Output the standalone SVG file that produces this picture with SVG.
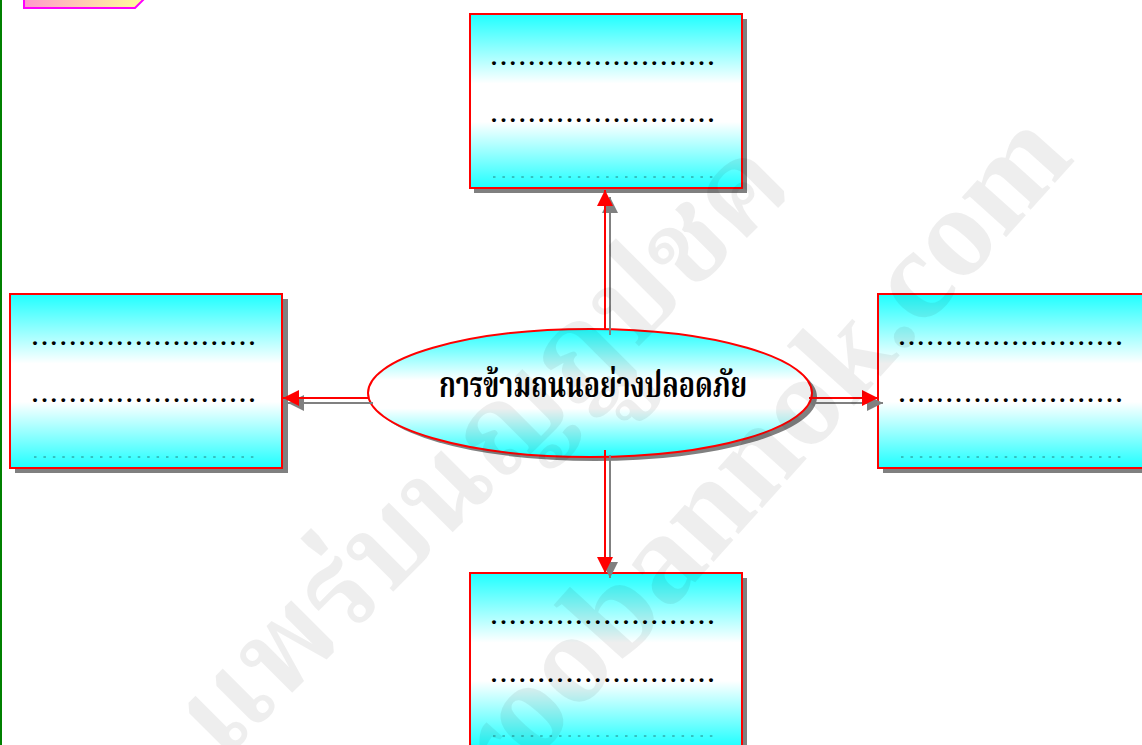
<svg xmlns="http://www.w3.org/2000/svg" width="1142" height="745" viewBox="0 0 1142 745">
<style>
.box{fill:url(#cyan);stroke:#f00;stroke-width:2}
.shadow{fill:#808080}
.dots{font-family:"Liberation Serif",serif;font-weight:bold;font-size:24px;letter-spacing:3.43px;fill:#000}
.dash{stroke:#000;stroke-width:.8;stroke-dasharray:2.5 6.93;opacity:.6}
.title{font-family:"Noto Serif Thai","Noto Sans Thai","Liberation Serif","Noto Sans",serif;font-weight:bold;font-size:36px;fill:#000}
.wm{font-weight:bold;fill:#000;fill-opacity:.065}
.r{stroke:#f00;stroke-width:2;fill:none}
.g{stroke:#808080;stroke-width:2;fill:none}
</style>
<defs>
<linearGradient id="cyan" x1="0" y1="0" x2="0" y2="1"><stop offset="0" stop-color="#1fffff"/><stop offset=".4" stop-color="#fff"/><stop offset=".62" stop-color="#fff"/><stop offset="1" stop-color="#1fffff"/></linearGradient>
<linearGradient id="pink" x1="0" y1="0" x2="1" y2="0"><stop offset="0" stop-color="#ff99cc"/><stop offset="1" stop-color="#ffff99"/></linearGradient>
<marker id="ah" markerUnits="userSpaceOnUse" markerWidth="16" markerHeight="16" refX="16" refY="8" orient="auto"><path d="M0 0L16 8L0 16z" fill="#f00"/></marker>
<marker id="ag" markerUnits="userSpaceOnUse" markerWidth="16" markerHeight="16" refX="16" refY="8" orient="auto"><path d="M0 0L16 8L0 16z" fill="#808080"/></marker>
</defs>
<rect width="1142" height="745" fill="#fff"/>
<rect x="0" y="0" width="2" height="745" fill="#008000"/>
<g id="tag"><path d="M24 -4V8H135L144 -1z" fill="url(#pink)" stroke="#f0f" stroke-width="2"/></g>
<g id="node-top"><rect class="shadow" x="474" y="19" width="273" height="174"/><rect class="box" x="470" y="14" width="272" height="174"/><text class="dots" x="491" y="64.6">........................</text><text class="dots" x="491" y="122.4">........................</text><line class="dash" x1="493" y1="177" x2="713" y2="177"/></g>
<g id="node-left"><rect class="shadow" x="15" y="299" width="273" height="174"/><rect class="box" x="10" y="294" width="272" height="174"/><text class="dots" x="32" y="345.4">........................</text><text class="dots" x="32" y="402.4">........................</text><line class="dash" x1="34" y1="457" x2="254" y2="457"/></g>
<g id="node-right"><rect class="shadow" x="883" y="299" width="273" height="174"/><rect class="box" x="878" y="294" width="272" height="174"/><text class="dots" x="899" y="345.4">........................</text><text class="dots" x="899" y="402.4">........................</text><line class="dash" x1="901" y1="457" x2="1121" y2="457"/></g>
<g id="node-bottom"><rect class="shadow" x="474" y="578" width="273" height="174"/><rect class="box" x="470" y="573" width="272" height="174"/><text class="dots" x="491" y="624.4">........................</text><text class="dots" x="491" y="681.6">........................</text><line class="dash" x1="493" y1="736" x2="713" y2="736"/></g>
<g id="node-center"><ellipse class="shadow" cx="595" cy="397" rx="222" ry="64"/><ellipse cx="590" cy="393" rx="222" ry="64" fill="url(#cyan)" stroke="#f00" stroke-width="2"/><text class="title" x="439" y="397" textLength="308" lengthAdjust="spacingAndGlyphs">การข้ามถนนอย่างปลอดภัย</text></g>
<g id="connectors">
<path class="g" d="M610 335V197" marker-end="url(#ag)"/><path class="r" d="M605 330V190" marker-end="url(#ah)"/>
<path class="g" d="M373 403H288" marker-end="url(#ag)"/><path class="r" d="M368 398H283" marker-end="url(#ah)"/>
<path class="g" d="M814 403H883" marker-end="url(#ag)"/><path class="r" d="M809 398H878" marker-end="url(#ah)"/>
<path class="g" d="M610 455V578" marker-end="url(#ag)"/><path class="r" d="M605 450V573" marker-end="url(#ah)"/>
</g>
<g id="watermark">
<text class="wm" font-family="'Liberation Serif',serif" font-size="130" transform="translate(447 858) rotate(-48)">kroobannok.com</text>
<text class="wm" font-family="'Noto Serif Thai','Noto Sans Thai','Liberation Serif',serif" font-size="120" transform="translate(223 762) rotate(-45)">แพร่บนญฎูปชค</text>
</g>
</svg>
